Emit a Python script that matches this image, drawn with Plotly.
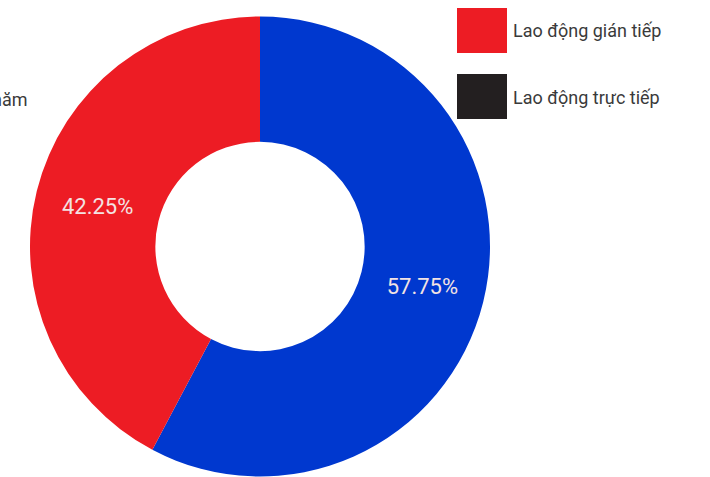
import plotly.graph_objects as go

# Workforce structure (direct labour listed first so it sits on the right)
labels = ["Lao động trực tiếp", "Lao động gián tiếp"]
values = [57.75, 42.25]
slice_colors = ["#0038cf", "#ed1c24"]

# Legend entries (swatch colours as published)
legend_labels = ["Lao động gián tiếp", "Lao động trực tiếp"]
legend_colors = ["#ed1c24", "#231f20"]

W, H = 710, 477
TOP = 16
PH = H - TOP


def py(pix):
    """Convert a pixel row to paper y."""
    return 1 - (pix - TOP) / PH


fig = go.Figure(
    go.Pie(
        labels=labels,
        values=values,
        hole=0.455,
        sort=False,
        direction="clockwise",
        rotation=0,
        marker=dict(colors=slice_colors, line=dict(width=0)),
        texttemplate="%{value:.2f}%",
        textposition="inside",
        insidetextorientation="horizontal",
        insidetextfont=dict(color="#f3e3e3", size=22, family="Roboto"),
        domain=dict(x=[30 / W, 490 / W], y=[0, 1]),
        showlegend=False,
        hoverinfo="label+percent",
    )
)

shapes = []
annotations = []
for i, (lab, col) in enumerate(zip(legend_labels, legend_colors)):
    y0 = 8 + i * 66
    shapes.append(
        dict(
            type="rect", xref="paper", yref="paper",
            x0=457 / W, x1=507 / W,
            y0=py(y0 + 45), y1=py(y0),
            fillcolor=col, line=dict(width=0), layer="above",
        )
    )
    annotations.append(
        dict(
            xref="paper", yref="paper",
            x=511 / W, y=py(y0 + 23),
            text=lab, showarrow=False, xanchor="left", yanchor="middle",
            font=dict(size=18, color="#3a3a3a", family="Roboto"),
        )
    )

# Caption running off the left edge
annotations.append(
    dict(
        xref="paper", yref="paper",
        x=30 / W, y=py(99),
        text="năm", showarrow=False, xanchor="right", yanchor="middle",
        font=dict(size=18, color="#3a3a3a", family="Roboto"),
    )
)

fig.update_layout(
    width=W, height=H,
    margin=dict(l=0, r=0, t=TOP, b=0),
    paper_bgcolor="white",
    plot_bgcolor="white",
    shapes=shapes,
    annotations=annotations,
)

fig.write_html("out.html")
